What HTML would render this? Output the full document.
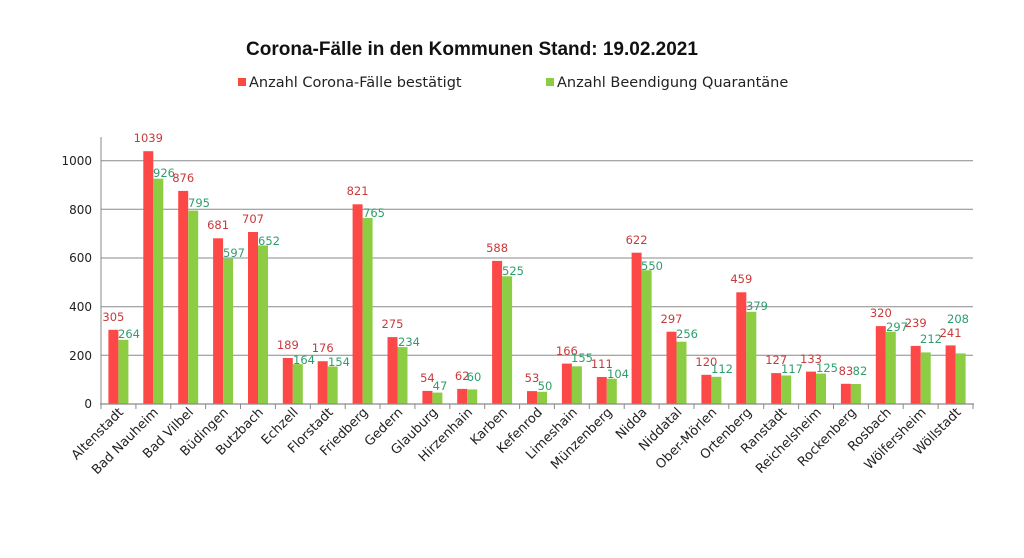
<!DOCTYPE html>
<html><head><meta charset="utf-8"><style>
html,body{margin:0;padding:0;background:#fff;}
svg{display:block;font-family:"DejaVu Sans","Liberation Sans",sans-serif;}
.r{fill:#fd4848}.g{fill:#8dcd44}
.lr{fill:#c9393b;font-size:11.5px;text-anchor:middle}
.lg{fill:#2e9e6c;font-size:11.5px;text-anchor:middle}
.yl{font-size:12px;fill:#222;text-anchor:end}
.xl{font-size:13px;fill:#222;text-anchor:end}
</style></head><body>
<svg width="1024" height="558" viewBox="0 0 1024 558">
<text x="472" y="55" text-anchor="middle" font-size="19" font-weight="bold" fill="#111" font-family="Liberation Sans, sans-serif">Corona-Fälle in den Kommunen Stand: 19.02.2021</text>
<rect x="238" y="78" width="8" height="8" class="r"/>
<text x="249" y="87" font-size="14.5" fill="#222">Anzahl Corona-Fälle bestätigt</text>
<rect x="546" y="78" width="8" height="8" class="g"/>
<text x="557" y="87" font-size="14.5" fill="#222">Anzahl Beendigung Quarantäne</text>
<g stroke="#8a8a8a" stroke-width="1">
<line x1="101" y1="160.7" x2="973" y2="160.7"/>
<line x1="101" y1="209.3" x2="973" y2="209.3"/>
<line x1="101" y1="258" x2="973" y2="258"/>
<line x1="101" y1="306.7" x2="973" y2="306.7"/>
<line x1="101" y1="355.3" x2="973" y2="355.3"/>
<line x1="101" y1="137" x2="101" y2="404"/>
</g>
<g class="yl">
<text x="92" y="165">1000</text><text x="92" y="214">800</text><text x="92" y="262">600</text>
<text x="92" y="311">400</text><text x="92" y="360">200</text><text x="92" y="408">0</text>
</g>
<g>
<rect class="r" x="108.4" y="329.8" width="10" height="74.2"/><rect class="g" x="118.4" y="339.8" width="10" height="64.2"/>
<rect class="r" x="143.3" y="151.2" width="10" height="252.8"/><rect class="g" x="153.3" y="178.7" width="10" height="225.3"/>
<rect class="r" x="178.2" y="190.9" width="10" height="213.1"/><rect class="g" x="188.2" y="210.6" width="10" height="193.4"/>
<rect class="r" x="213.1" y="238.3" width="10" height="165.7"/><rect class="g" x="223.1" y="258.7" width="10" height="145.3"/>
<rect class="r" x="248" y="232" width="10" height="172"/><rect class="g" x="258" y="245.4" width="10" height="158.6"/>
<rect class="r" x="282.8" y="358" width="10" height="46"/><rect class="g" x="292.8" y="364.1" width="10" height="39.9"/>
<rect class="r" x="317.7" y="361.2" width="10" height="42.8"/><rect class="g" x="327.7" y="366.5" width="10" height="37.5"/>
<rect class="r" x="352.6" y="204.3" width="10" height="199.7"/><rect class="g" x="362.6" y="217.9" width="10" height="186.1"/>
<rect class="r" x="387.5" y="337.1" width="10" height="66.9"/><rect class="g" x="397.5" y="347.1" width="10" height="56.9"/>
<rect class="r" x="422.4" y="390.9" width="10" height="13.1"/><rect class="g" x="432.4" y="392.6" width="10" height="11.4"/>
<rect class="r" x="457.2" y="388.9" width="10" height="15.1"/><rect class="g" x="467.2" y="389.4" width="10" height="14.6"/>
<rect class="r" x="492.1" y="260.9" width="10" height="143.1"/><rect class="g" x="502.1" y="276.3" width="10" height="127.7"/>
<rect class="r" x="527" y="391.1" width="10" height="12.9"/><rect class="g" x="537" y="391.8" width="10" height="12.2"/>
<rect class="r" x="561.9" y="363.6" width="10" height="40.4"/><rect class="g" x="571.9" y="366.3" width="10" height="37.7"/>
<rect class="r" x="596.8" y="377" width="10" height="27"/><rect class="g" x="606.8" y="378.7" width="10" height="25.3"/>
<rect class="r" x="631.6" y="252.7" width="10" height="151.3"/><rect class="g" x="641.6" y="270.2" width="10" height="133.8"/>
<rect class="r" x="666.5" y="331.7" width="10" height="72.3"/><rect class="g" x="676.5" y="341.7" width="10" height="62.3"/>
<rect class="r" x="701.4" y="374.8" width="10" height="29.2"/><rect class="g" x="711.4" y="376.8" width="10" height="27.2"/>
<rect class="r" x="736.3" y="292.3" width="10" height="111.7"/><rect class="g" x="746.3" y="311.8" width="10" height="92.2"/>
<rect class="r" x="771.2" y="373.1" width="10" height="30.9"/><rect class="g" x="781.2" y="375.5" width="10" height="28.5"/>
<rect class="r" x="806" y="371.6" width="10" height="32.4"/><rect class="g" x="816" y="373.6" width="10" height="30.4"/>
<rect class="r" x="840.9" y="383.8" width="10" height="20.2"/><rect class="g" x="850.9" y="384" width="10" height="20"/>
<rect class="r" x="875.8" y="326.1" width="10" height="77.9"/><rect class="g" x="885.8" y="331.7" width="10" height="72.3"/>
<rect class="r" x="910.7" y="345.9" width="10" height="58.1"/><rect class="g" x="920.7" y="352.4" width="10" height="51.6"/>
<rect class="r" x="945.6" y="345.4" width="10" height="58.6"/><rect class="g" x="955.6" y="353.4" width="10" height="50.6"/>
</g>
<g stroke="#8a8a8a" stroke-width="1.2">
<line x1="100" y1="404" x2="974" y2="404"/>
</g>
<g stroke="#8a8a8a" stroke-width="1">
<line x1="101" y1="404" x2="101" y2="409"/><line x1="135.9" y1="404" x2="135.9" y2="409"/><line x1="170.8" y1="404" x2="170.8" y2="409"/><line x1="205.6" y1="404" x2="205.6" y2="409"/><line x1="240.5" y1="404" x2="240.5" y2="409"/><line x1="275.4" y1="404" x2="275.4" y2="409"/><line x1="310.3" y1="404" x2="310.3" y2="409"/><line x1="345.2" y1="404" x2="345.2" y2="409"/><line x1="380" y1="404" x2="380" y2="409"/><line x1="414.9" y1="404" x2="414.9" y2="409"/><line x1="449.8" y1="404" x2="449.8" y2="409"/><line x1="484.7" y1="404" x2="484.7" y2="409"/><line x1="519.6" y1="404" x2="519.6" y2="409"/><line x1="554.4" y1="404" x2="554.4" y2="409"/><line x1="589.3" y1="404" x2="589.3" y2="409"/><line x1="624.2" y1="404" x2="624.2" y2="409"/><line x1="659.1" y1="404" x2="659.1" y2="409"/><line x1="694" y1="404" x2="694" y2="409"/><line x1="728.8" y1="404" x2="728.8" y2="409"/><line x1="763.7" y1="404" x2="763.7" y2="409"/><line x1="798.6" y1="404" x2="798.6" y2="409"/><line x1="833.5" y1="404" x2="833.5" y2="409"/><line x1="868.4" y1="404" x2="868.4" y2="409"/><line x1="903.2" y1="404" x2="903.2" y2="409"/><line x1="938.1" y1="404" x2="938.1" y2="409"/><line x1="973" y1="404" x2="973" y2="409"/>
</g>
<g>
<text class="lr" x="113.4" y="321">305</text><text class="lg" x="129" y="338">264</text>
<text class="lr" x="148.3" y="142">1039</text><text class="lg" x="164" y="177">926</text>
<text class="lr" x="183.2" y="182">876</text><text class="lg" x="199" y="207">795</text>
<text class="lr" x="218.1" y="229">681</text><text class="lg" x="234" y="257">597</text>
<text class="lr" x="253" y="223">707</text><text class="lg" x="269" y="245">652</text>
<text class="lr" x="287.8" y="349">189</text><text class="lg" x="304" y="364">164</text>
<text class="lr" x="322.7" y="352">176</text><text class="lg" x="339" y="366">154</text>
<text class="lr" x="357.6" y="195">821</text><text class="lg" x="374" y="217">765</text>
<text class="lr" x="392.5" y="328">275</text><text class="lg" x="409" y="346">234</text>
<text class="lr" x="427.4" y="382">54</text><text class="lg" x="440" y="390">47</text>
<text class="lr" x="462.2" y="380">62</text><text class="lg" x="474" y="381">60</text>
<text class="lr" x="497.1" y="252">588</text><text class="lg" x="513" y="275">525</text>
<text class="lr" x="532" y="382">53</text><text class="lg" x="545" y="390">50</text>
<text class="lr" x="566.9" y="355">166</text><text class="lg" x="582" y="362">155</text>
<text class="lr" x="601.8" y="368">111</text><text class="lg" x="618" y="378">104</text>
<text class="lr" x="636.6" y="244">622</text><text class="lg" x="652" y="270">550</text>
<text class="lr" x="671.5" y="323">297</text><text class="lg" x="687" y="338">256</text>
<text class="lr" x="706.4" y="366">120</text><text class="lg" x="722" y="373">112</text>
<text class="lr" x="741.3" y="283">459</text><text class="lg" x="757" y="310">379</text>
<text class="lr" x="776.2" y="364">127</text><text class="lg" x="792" y="373">117</text>
<text class="lr" x="811" y="363">133</text><text class="lg" x="827" y="372">125</text>
<text class="lr" x="845.9" y="375">83</text><text class="lg" x="860" y="375">82</text>
<text class="lr" x="880.8" y="317">320</text><text class="lg" x="897" y="331">297</text>
<text class="lr" x="915.7" y="327">239</text><text class="lg" x="931" y="343">212</text>
<text class="lr" x="950.6" y="337">241</text><text class="lg" x="958" y="323">208</text>
</g>
<g class="xl">
<text transform="translate(124,413) rotate(-45)">Altenstadt</text>
<text transform="translate(159,413) rotate(-45)">Bad Nauheim</text>
<text transform="translate(194,413) rotate(-45)">Bad Vilbel</text>
<text transform="translate(229,413) rotate(-45)">Büdingen</text>
<text transform="translate(264,413) rotate(-45)">Butzbach</text>
<text transform="translate(298.8,413) rotate(-45)">Echzell</text>
<text transform="translate(333.7,413) rotate(-45)">Florstadt</text>
<text transform="translate(368.6,413) rotate(-45)">Friedberg</text>
<text transform="translate(403.5,413) rotate(-45)">Gedern</text>
<text transform="translate(438.4,413) rotate(-45)">Glauburg</text>
<text transform="translate(473.2,413) rotate(-45)">Hirzenhain</text>
<text transform="translate(508.1,413) rotate(-45)">Karben</text>
<text transform="translate(543,413) rotate(-45)">Kefenrod</text>
<text transform="translate(577.9,413) rotate(-45)">Limeshain</text>
<text transform="translate(612.8,413) rotate(-45)">Münzenberg</text>
<text transform="translate(647.6,413) rotate(-45)">Nidda</text>
<text transform="translate(682.5,413) rotate(-45)">Niddatal</text>
<text transform="translate(717.4,413) rotate(-45)">Ober-Mörlen</text>
<text transform="translate(752.3,413) rotate(-45)">Ortenberg</text>
<text transform="translate(787.2,413) rotate(-45)">Ranstadt</text>
<text transform="translate(822,413) rotate(-45)">Reichelsheim</text>
<text transform="translate(856.9,413) rotate(-45)">Rockenberg</text>
<text transform="translate(891.8,413) rotate(-45)">Rosbach</text>
<text transform="translate(926.7,413) rotate(-45)">Wölfersheim</text>
<text transform="translate(961.6,413) rotate(-45)">Wöllstadt</text>
</g>
</svg>
</body></html>
